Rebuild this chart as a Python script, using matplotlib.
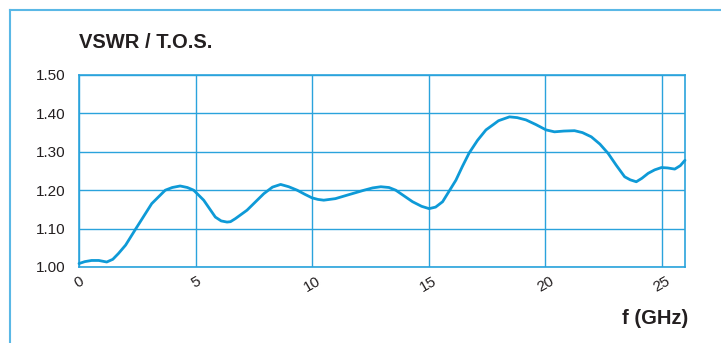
import matplotlib.pyplot as plt
from matplotlib.lines import Line2D

plt.rcParams['font.family'] = ['Liberation Sans', 'DejaVu Sans']

# values
freq = [0.0, 0.25, 0.54, 0.85, 1.19, 1.45, 1.69, 2.0, 2.4, 3.12, 3.7, 4.0,
        4.34, 4.65, 4.92, 5.35, 5.6, 5.85, 6.1, 6.35, 6.5, 6.71, 7.21, 7.93,
        8.3, 8.65, 9.0, 9.36, 9.7, 10.0, 10.25, 10.5, 11.0, 11.5, 12.23,
        12.6, 12.95, 13.3, 13.59, 14.31, 14.7, 15.02, 15.3, 15.6, 16.17,
        16.45, 16.74, 17.1, 17.46, 17.8, 18.0, 18.47, 18.8, 19.18, 19.6,
        20.04, 20.4, 20.8, 21.26, 21.6, 21.98, 22.35, 22.7, 23.05, 23.41,
        23.65, 23.91, 24.15, 24.42, 24.7, 24.99, 25.25, 25.56, 25.8, 26.0]
vswr = [1.009, 1.014, 1.017, 1.017, 1.013, 1.020, 1.035, 1.057, 1.096, 1.165,
        1.200, 1.207, 1.211, 1.207, 1.200, 1.174, 1.152, 1.130, 1.120, 1.117,
        1.118, 1.126, 1.148, 1.191, 1.208, 1.215, 1.209, 1.200, 1.189, 1.180,
        1.176, 1.174, 1.178, 1.187, 1.200, 1.206, 1.209, 1.207, 1.200, 1.170,
        1.158, 1.152, 1.156, 1.170, 1.226, 1.262, 1.297, 1.330, 1.357, 1.372,
        1.381, 1.391, 1.389, 1.383, 1.371, 1.357, 1.352, 1.354, 1.355, 1.350,
        1.339, 1.320, 1.296, 1.265, 1.235, 1.227, 1.222, 1.231, 1.244, 1.253,
        1.259, 1.258, 1.255, 1.264, 1.278]
xticks = [0, 5, 10, 15, 20, 25]
yticks = [1.00, 1.10, 1.20, 1.30, 1.40, 1.50]

blue = '#0e9ad7'
grid = '#2aa3dc'
frame = '#5ab8e6'
txt = '#231f20'

fig = plt.figure(figsize=(7.21, 3.43), dpi=100)
ax = fig.add_axes([79 / 721, 1 - 267 / 343, (685 - 79) / 721, (267 - 75) / 343])

ax.plot(freq, vswr, color=blue, lw=2.0, solid_joinstyle='round',
        solid_capstyle='round', clip_on=False, zorder=3)

ax.set_xlim(0, 26)
ax.set_ylim(1.0, 1.5)
ax.set_xticks(xticks)
ax.set_yticks(yticks)
ax.set_yticklabels([f'{v:.2f}' for v in yticks], fontsize=11, color=txt)
ax.set_xticklabels([str(v) for v in xticks], fontsize=11, color=txt,
                   rotation=30, ha='center')
ax.tick_params(length=0, pad=10)
ax.tick_params(axis='x', pad=5)
ax.grid(True, color=grid, lw=1.0)
for s in ax.spines.values():
    s.set_color(grid)
    s.set_linewidth(1.2)

fig.text(79 / 721, 1 - 43 / 343, 'VSWR / T.O.S.', fontsize=14.5, fontweight='bold',
         color=txt, va='center', ha='left')
fig.text(688 / 721, 1 - 318 / 343, 'f (GHz)', fontsize=14.5, fontweight='bold',
         color=txt, va='center', ha='right')

# outer frame lines
fig.add_artist(Line2D([10 / 721, 10 / 721], [0, 1 - 10 / 343], color=frame,
                      lw=1.5, transform=fig.transFigure))
fig.add_artist(Line2D([10 / 721, 1], [1 - 10 / 343, 1 - 10 / 343], color=frame,
                      lw=1.5, transform=fig.transFigure))

fig.savefig('out.png', dpi=100)
